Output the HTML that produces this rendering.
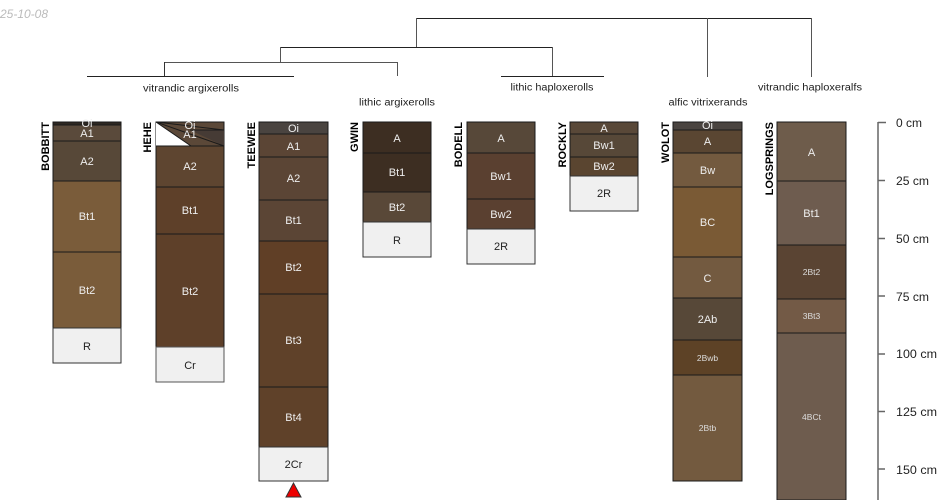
<!DOCTYPE html>
<html><head><meta charset="utf-8"><style>
html,body{margin:0;padding:0;background:#fff;}
svg{display:block;}
text{font-family:"Liberation Sans",Arial,sans-serif;}
.h{fill:#eeeeee;font-size:11px;text-anchor:middle;}
.hs{fill:#dddddd;font-size:8.5px;text-anchor:middle;}
.hd{fill:#222;font-size:11px;text-anchor:middle;}
.n{fill:#000;font-size:11px;font-weight:bold;text-anchor:end;}
.t{fill:#222;font-size:10px;text-anchor:middle;}
.ax{fill:#222;font-size:12px;}
</style></head><body>
<svg width="950" height="500" viewBox="0 0 950 500" xmlns="http://www.w3.org/2000/svg">
<rect width="950" height="500" fill="#fff"/>
<text x="0" y="18" font-size="12" font-style="italic" fill="#bbbbbb" textLength="48" lengthAdjust="spacingAndGlyphs">25-10-08</text>

<!-- dendrogram -->
<g stroke-width="1" fill="none">
<line x1="417" y1="18.5" x2="811.5" y2="18.5" stroke="#222"/>
<line x1="416.5" y1="18" x2="416.5" y2="47" stroke="#555"/>
<line x1="707.5" y1="18" x2="707.5" y2="77" stroke="#555"/>
<line x1="811.5" y1="18" x2="811.5" y2="77" stroke="#555"/>
<line x1="281" y1="47.5" x2="552.5" y2="47.5" stroke="#222"/>
<line x1="280.5" y1="47" x2="280.5" y2="62" stroke="#555"/>
<line x1="552.5" y1="47" x2="552.5" y2="76" stroke="#555"/>
<line x1="164" y1="62.5" x2="397.5" y2="62.5" stroke="#555"/>
<line x1="164.5" y1="62" x2="164.5" y2="76" stroke="#333"/>
<line x1="397.5" y1="62" x2="397.5" y2="76" stroke="#555"/>
<line x1="87" y1="76.5" x2="294" y2="76.5" stroke="#222"/>
<line x1="501" y1="76.5" x2="604" y2="76.5" stroke="#222"/>
</g>
<text class="t" x="191" y="91.5" textLength="96" lengthAdjust="spacingAndGlyphs">vitrandic argixerolls</text>
<text class="t" x="397" y="105.5" textLength="76" lengthAdjust="spacingAndGlyphs">lithic argixerolls</text>
<text class="t" x="552" y="90.5" textLength="83" lengthAdjust="spacingAndGlyphs">lithic haploxerolls</text>
<text class="t" x="708" y="105.5" textLength="79" lengthAdjust="spacingAndGlyphs">alfic vitrixerands</text>
<text class="t" x="810" y="90.5" textLength="104" lengthAdjust="spacingAndGlyphs">vitrandic haploxeralfs</text>

<g stroke="#1a1a1a" stroke-width="1">
<!-- BOBBITT -->
<rect x="53" y="122" width="68" height="3" fill="#2e2822"/>
<rect x="53" y="125" width="68" height="16" fill="#5a4a3b"/>
<rect x="53" y="141" width="68" height="40" fill="#574838"/>
<rect x="53" y="181" width="68" height="71" fill="#7a5c3a"/>
<rect x="53" y="252" width="68" height="76" fill="#7a5c3a"/>
<rect x="53" y="328" width="68" height="35" fill="#f0f0f0" stroke="#333"/>

<!-- HEHE -->
<rect x="156" y="122" width="68" height="24" fill="#5b4838"/>
<polygon points="190,130 224,130 224,146" fill="#463b35" stroke="none"/>
<polygon points="156,122 156,146 191,146" fill="#ffffff" stroke="none"/>
<line x1="156" y1="122" x2="224" y2="130"/>
<line x1="156" y1="122" x2="224" y2="146"/>
<line x1="156" y1="122" x2="191" y2="146"/>
<line x1="190" y1="130" x2="224" y2="130"/>
<rect x="156" y="146" width="68" height="41" fill="#5e4530"/>
<rect x="156" y="187" width="68" height="47" fill="#5e4029"/>
<rect x="156" y="234" width="68" height="113" fill="#5e4029"/>
<rect x="156" y="347" width="68" height="35" fill="#f0f0f0" stroke="#555"/>

<!-- TEEWEE -->
<rect x="259" y="122" width="69" height="12" fill="#4a4440"/>
<rect x="259" y="134" width="69" height="23" fill="#5b4535"/>
<rect x="259" y="157" width="69" height="43" fill="#5b4535"/>
<rect x="259" y="200" width="69" height="41" fill="#5b4535"/>
<rect x="259" y="241" width="69" height="53" fill="#603f26"/>
<rect x="259" y="294" width="69" height="93" fill="#5f4129"/>
<rect x="259" y="387" width="69" height="60" fill="#5f4129"/>
<rect x="259" y="447" width="69" height="34" fill="#f0f0f0" stroke="#333"/>
<polygon points="293.5,483 286,497 301,497" fill="#ee0000" stroke="#333"/>

<!-- GWIN -->
<rect x="363" y="122" width="68" height="31" fill="#3d2e22"/>
<rect x="363" y="153" width="68" height="39" fill="#3d2e22"/>
<rect x="363" y="192" width="68" height="30" fill="#594838"/>
<rect x="363" y="222" width="68" height="35" fill="#f0f0f0" stroke="#333"/>

<!-- BODELL -->
<rect x="467" y="122" width="68" height="31" fill="#574839"/>
<rect x="467" y="153" width="68" height="46" fill="#5a4030"/>
<rect x="467" y="199" width="68" height="30" fill="#5a4030"/>
<rect x="467" y="229" width="68" height="35" fill="#f0f0f0" stroke="#333"/>

<!-- ROCKLY -->
<rect x="570" y="122" width="68" height="12" fill="#594838"/>
<rect x="570" y="134" width="68" height="23" fill="#574838"/>
<rect x="570" y="157" width="68" height="19" fill="#5a4530"/>
<rect x="570" y="176" width="68" height="35" fill="#f0f0f0" stroke="#333"/>

<!-- WOLOT -->
<rect x="673" y="122" width="69" height="8" fill="#4a4440"/>
<rect x="673" y="130" width="69" height="23" fill="#5a4632"/>
<rect x="673" y="153" width="69" height="34" fill="#735a3f"/>
<rect x="673" y="187" width="69" height="70" fill="#7a5a35"/>
<rect x="673" y="257" width="69" height="41" fill="#735a40"/>
<rect x="673" y="298" width="69" height="42" fill="#574838"/>
<rect x="673" y="340" width="69" height="35" fill="#5d4226"/>
<rect x="673" y="375" width="69" height="106" fill="#735a3f"/>

<!-- LOGSPRINGS -->
<rect x="777" y="122" width="69" height="59" fill="#6e5c4b"/>
<rect x="777" y="181" width="69" height="64" fill="#6e5c4f"/>
<rect x="777" y="245" width="69" height="54" fill="#5a4433"/>
<rect x="777" y="299" width="69" height="34" fill="#735a46"/>
<rect x="777" y="333" width="69" height="167" fill="#6e5c4e"/>
</g>

<!-- horizon labels -->
<text class="h" x="87" y="127">Oi</text>
<text class="h" x="87" y="137">A1</text>
<text class="h" x="87" y="165">A2</text>
<text class="h" x="87" y="220">Bt1</text>
<text class="h" x="87" y="294">Bt2</text>
<text class="hd" x="87" y="350">R</text>

<text class="h" x="190" y="129">Oi</text>
<text class="h" x="190" y="138">A1</text>
<text class="h" x="190" y="170">A2</text>
<text class="h" x="190" y="214">Bt1</text>
<text class="h" x="190" y="295">Bt2</text>
<text class="hd" x="190" y="369">Cr</text>

<text class="h" x="293.5" y="132">Oi</text>
<text class="h" x="293.5" y="150">A1</text>
<text class="h" x="293.5" y="182">A2</text>
<text class="h" x="293.5" y="224">Bt1</text>
<text class="h" x="293.5" y="271">Bt2</text>
<text class="h" x="293.5" y="344">Bt3</text>
<text class="h" x="293.5" y="421">Bt4</text>
<text class="hd" x="293.5" y="468">2Cr</text>

<text class="h" x="397" y="142">A</text>
<text class="h" x="397" y="176">Bt1</text>
<text class="h" x="397" y="211">Bt2</text>
<text class="hd" x="397" y="244">R</text>

<text class="h" x="501" y="142">A</text>
<text class="h" x="501" y="180">Bw1</text>
<text class="h" x="501" y="218">Bw2</text>
<text class="hd" x="501" y="250">2R</text>

<text class="h" x="604" y="132">A</text>
<text class="h" x="604" y="149">Bw1</text>
<text class="h" x="604" y="170">Bw2</text>
<text class="hd" x="604" y="197">2R</text>

<text class="h" x="707.5" y="129">Oi</text>
<text class="h" x="707.5" y="145">A</text>
<text class="h" x="707.5" y="174">Bw</text>
<text class="h" x="707.5" y="226">BC</text>
<text class="h" x="707.5" y="282">C</text>
<text class="h" x="707.5" y="323">2Ab</text>
<text class="hs" x="707.5" y="361">2Bwb</text>
<text class="hs" x="707.5" y="431">2Btb</text>

<text class="h" x="811.5" y="156">A</text>
<text class="h" x="811.5" y="217">Bt1</text>
<text class="hs" x="811.5" y="275">2Bt2</text>
<text class="hs" x="811.5" y="319">3Bt3</text>
<text class="hs" x="811.5" y="420">4BCt</text>

<!-- profile names -->
<text class="n" transform="translate(49,122) rotate(-90)">BOBBITT</text>
<text class="n" transform="translate(151,122) rotate(-90)">HEHE</text>
<text class="n" transform="translate(255,122) rotate(-90)">TEEWEE</text>
<text class="n" transform="translate(358,122) rotate(-90)">GWIN</text>
<text class="n" transform="translate(462,122) rotate(-90)">BODELL</text>
<text class="n" transform="translate(566,122) rotate(-90)">ROCKLY</text>
<text class="n" transform="translate(669,122) rotate(-90)">WOLOT</text>
<text class="n" transform="translate(773,122) rotate(-90)">LOGSPRINGS</text>

<!-- depth axis -->
<g stroke="#666" stroke-width="1.5">
<line x1="878" y1="122" x2="878" y2="500"/>
<line x1="878" y1="122.5" x2="886" y2="122.5"/>
<line x1="878" y1="180.5" x2="885" y2="180.5"/>
<line x1="878" y1="238.5" x2="885" y2="238.5"/>
<line x1="878" y1="296" x2="885" y2="296"/>
<line x1="878" y1="354" x2="885" y2="354"/>
<line x1="878" y1="411.5" x2="885" y2="411.5"/>
<line x1="878" y1="469" x2="885" y2="469"/>
</g>
<text class="ax" x="896" y="127" textLength="26" lengthAdjust="spacingAndGlyphs">0 cm</text>
<text class="ax" x="896" y="185" textLength="33" lengthAdjust="spacingAndGlyphs">25 cm</text>
<text class="ax" x="896" y="243" textLength="33" lengthAdjust="spacingAndGlyphs">50 cm</text>
<text class="ax" x="896" y="301" textLength="33" lengthAdjust="spacingAndGlyphs">75 cm</text>
<text class="ax" x="896" y="358" textLength="41" lengthAdjust="spacingAndGlyphs">100 cm</text>
<text class="ax" x="896" y="416" textLength="41" lengthAdjust="spacingAndGlyphs">125 cm</text>
<text class="ax" x="896" y="474" textLength="41" lengthAdjust="spacingAndGlyphs">150 cm</text>
</svg>
</body></html>
